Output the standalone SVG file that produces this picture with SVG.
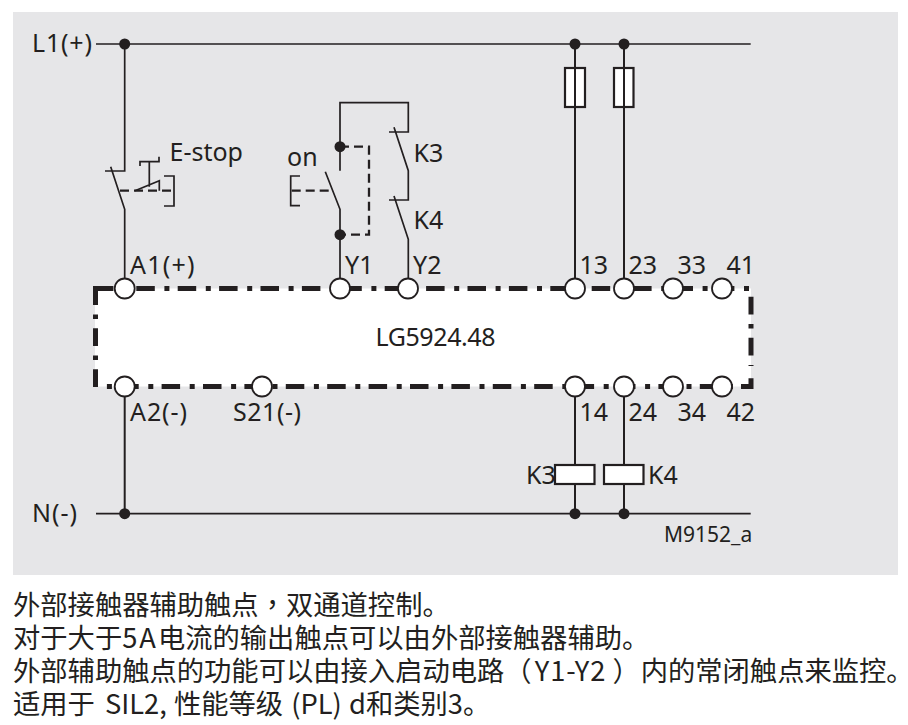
<svg xmlns="http://www.w3.org/2000/svg" width="908" height="725" viewBox="0 0 908 725">
<style>
.w{fill:none;stroke:#231f20;stroke-width:1.7}
.t{fill:none;stroke:#231f20;stroke-width:2}
.d{fill:none;stroke:#231f20;stroke-width:2.3;stroke-dasharray:9 5}
.b{fill:none;stroke:#231f20;stroke-width:5}
.h{stroke-dasharray:18.5 9.6 5 8.3}
.v{stroke-dasharray:17.7 9.5 4.5 9.3}
.dot{fill:#231f20}
.term{fill:#fff;stroke:#231f20;stroke-width:1.8}
.box{fill:#fff;stroke:#231f20;stroke-width:2.2}
text{font-family:"Noto Sans","Open Sans","Noto Sans CJK SC",sans-serif;font-size:25px;fill:#231f20}
.c{font-family:"Noto Sans CJK SC","Noto Sans",sans-serif;font-size:27.3px}
.tc{font-family:"Noto Sans CJK TC","Noto Sans",sans-serif}
</style>
<rect id="background" x="13" y="12" width="885" height="563" fill="#e6e6e8"/>
<g id="device">
<rect x="95" y="288.5" width="656" height="98" fill="#fff"/>
<path class="b h" d="M94.9 288.5H749"/>
<path class="b" d="M93 288.5H113"/>
<path class="b v" d="M95.5 287.3V387"/>
<path class="b v" d="M751 296.7V366"/>
<path class="b" d="M751 378.3V389M741 386.5H751"/>
<path class="b" style="stroke-dasharray:5 8.3 18.5 9.6" d="M106.9 386.5H741"/>
<text x="375.5" y="346" textLength="120" lengthAdjust="spacing">LG5924.48</text>
</g>
<g id="connectors">
<path class="w" d="M96 44H750.7M96 513.7H750.7"/>
<path class="w" d="M124.7 44V171H105M110.7 166.7L124.7 209.3V288"/>
<path class="w" d="M140 166V161.7H159V156.7M149.3 161.7V186.7M135 190.7L159.3 180.7V190.7M164 176H174V206H164"/>
<path class="d" d="M120 190.7H171"/>
<path class="w" d="M340 170.7V102.7H408.3V132H389M394 127.3L408.3 170.7V200H389M394 196L408.3 239.3V288"/>
<path class="w" d="M325.3 171.7L340 209.3V288M300 176H290.7V205.7H300"/>
<path class="d" d="M291.7 190.7H330M340 146.7H369V234.7H340"/>
<path class="t" d="M575 44V288M624 44V288M575 386V513.7M624 386V513.7"/>
<path class="t" d="M124.7 387V513.7"/>
<circle class="dot" cx="124.7" cy="44" r="5.5"/>
<circle class="dot" cx="575" cy="44" r="5.5"/>
<circle class="dot" cx="624" cy="44" r="5.5"/>
<circle class="dot" cx="340" cy="146.7" r="5.5"/>
<circle class="dot" cx="340" cy="234.7" r="5.5"/>
<circle class="dot" cx="124.7" cy="513.7" r="5.5"/>
<circle class="dot" cx="575" cy="513.7" r="5.5"/>
<circle class="dot" cx="624" cy="513.7" r="5.5"/>
</g>
<g id="fuse1"><rect x="565" y="68" width="20" height="39" fill="#fff" stroke="#231f20" stroke-width="2.2"/><path class="t" d="M575 68V107"/></g>
<g id="fuse2"><rect x="614" y="68" width="19.5" height="39" fill="#fff" stroke="#231f20" stroke-width="2.2"/><path class="t" d="M624 68V107"/></g>
<g id="coil-k3"><rect class="box" x="555" y="465" width="39.5" height="19"/><text x="526" y="484">K3</text></g>
<g id="coil-k4"><rect class="box" x="604" y="465" width="39.5" height="19"/><text x="648" y="484">K4</text></g>
<g id="terminal-a1"><circle class="term" cx="124.7" cy="288.5" r="10"/><text x="130" y="274" textLength="64.5" lengthAdjust="spacing">A1(+)</text></g>
<g id="terminal-y1"><circle class="term" cx="340" cy="288.5" r="10"/><text x="345" y="274">Y1</text></g>
<g id="terminal-y2"><circle class="term" cx="408" cy="288.5" r="10"/><text x="413" y="274">Y2</text></g>
<g id="terminal-13"><circle class="term" cx="575" cy="288.5" r="10"/><text x="579.5" y="274">13</text></g>
<g id="terminal-23"><circle class="term" cx="624" cy="288.5" r="10"/><text x="628.5" y="274">23</text></g>
<g id="terminal-33"><circle class="term" cx="673" cy="288.5" r="10"/><text x="677.5" y="274">33</text></g>
<g id="terminal-41"><circle class="term" cx="722" cy="288.5" r="10"/><text x="726.5" y="274">41</text></g>
<g id="terminal-a2"><circle class="term" cx="124.7" cy="386.5" r="10"/><text x="130" y="421" textLength="57" lengthAdjust="spacing">A2(-)</text></g>
<g id="terminal-s21"><circle class="term" cx="262" cy="386.5" r="10"/><text x="233" y="421" textLength="68" lengthAdjust="spacing">S21(-)</text></g>
<g id="terminal-14"><circle class="term" cx="575" cy="386.5" r="10"/><text x="579.5" y="421">14</text></g>
<g id="terminal-24"><circle class="term" cx="624" cy="386.5" r="10"/><text x="628.5" y="421">24</text></g>
<g id="terminal-34"><circle class="term" cx="673" cy="386.5" r="10"/><text x="677.5" y="421">34</text></g>
<g id="terminal-42"><circle class="term" cx="722" cy="386.5" r="10"/><text x="726.5" y="421">42</text></g>
<g id="labels">
<text x="32" y="52" textLength="60" lengthAdjust="spacing">L1(+)</text>
<text x="32" y="522" textLength="45" lengthAdjust="spacing">N(-)</text>
<text x="169.5" y="161">E-stop</text>
<text x="287" y="166">on</text>
<text x="413.5" y="162">K3</text>
<text x="413.5" y="229">K4</text>
<text x="664" y="542" style="font-size:21px">M9152_a</text>
</g>
<g id="caption">
<text class="c" x="13" y="615">外部接触器辅助触点<tspan class="tc">，</tspan>双通道控制。</text>
<text class="c" x="13" y="648">对于大于<tspan style="letter-spacing:2px">5A</tspan>电流的输出触点可以由外部接触器辅助。</text>
<text class="c" x="13" y="681">外部辅助触点的功能可以由接入启动电路（<tspan dx="3" style="letter-spacing:1px">Y1-Y2</tspan><tspan dx="6">）</tspan><tspan dx="1">内的常闭触点来监控。</tspan></text>
<text class="c" x="13" y="714">适用于 <tspan dx="4">SIL2,</tspan> <tspan dx="1">性能等级</tspan> <tspan dx="2">(PL)</tspan> <tspan dx="1">d和类别3。</tspan></text>
</g>
</svg>
